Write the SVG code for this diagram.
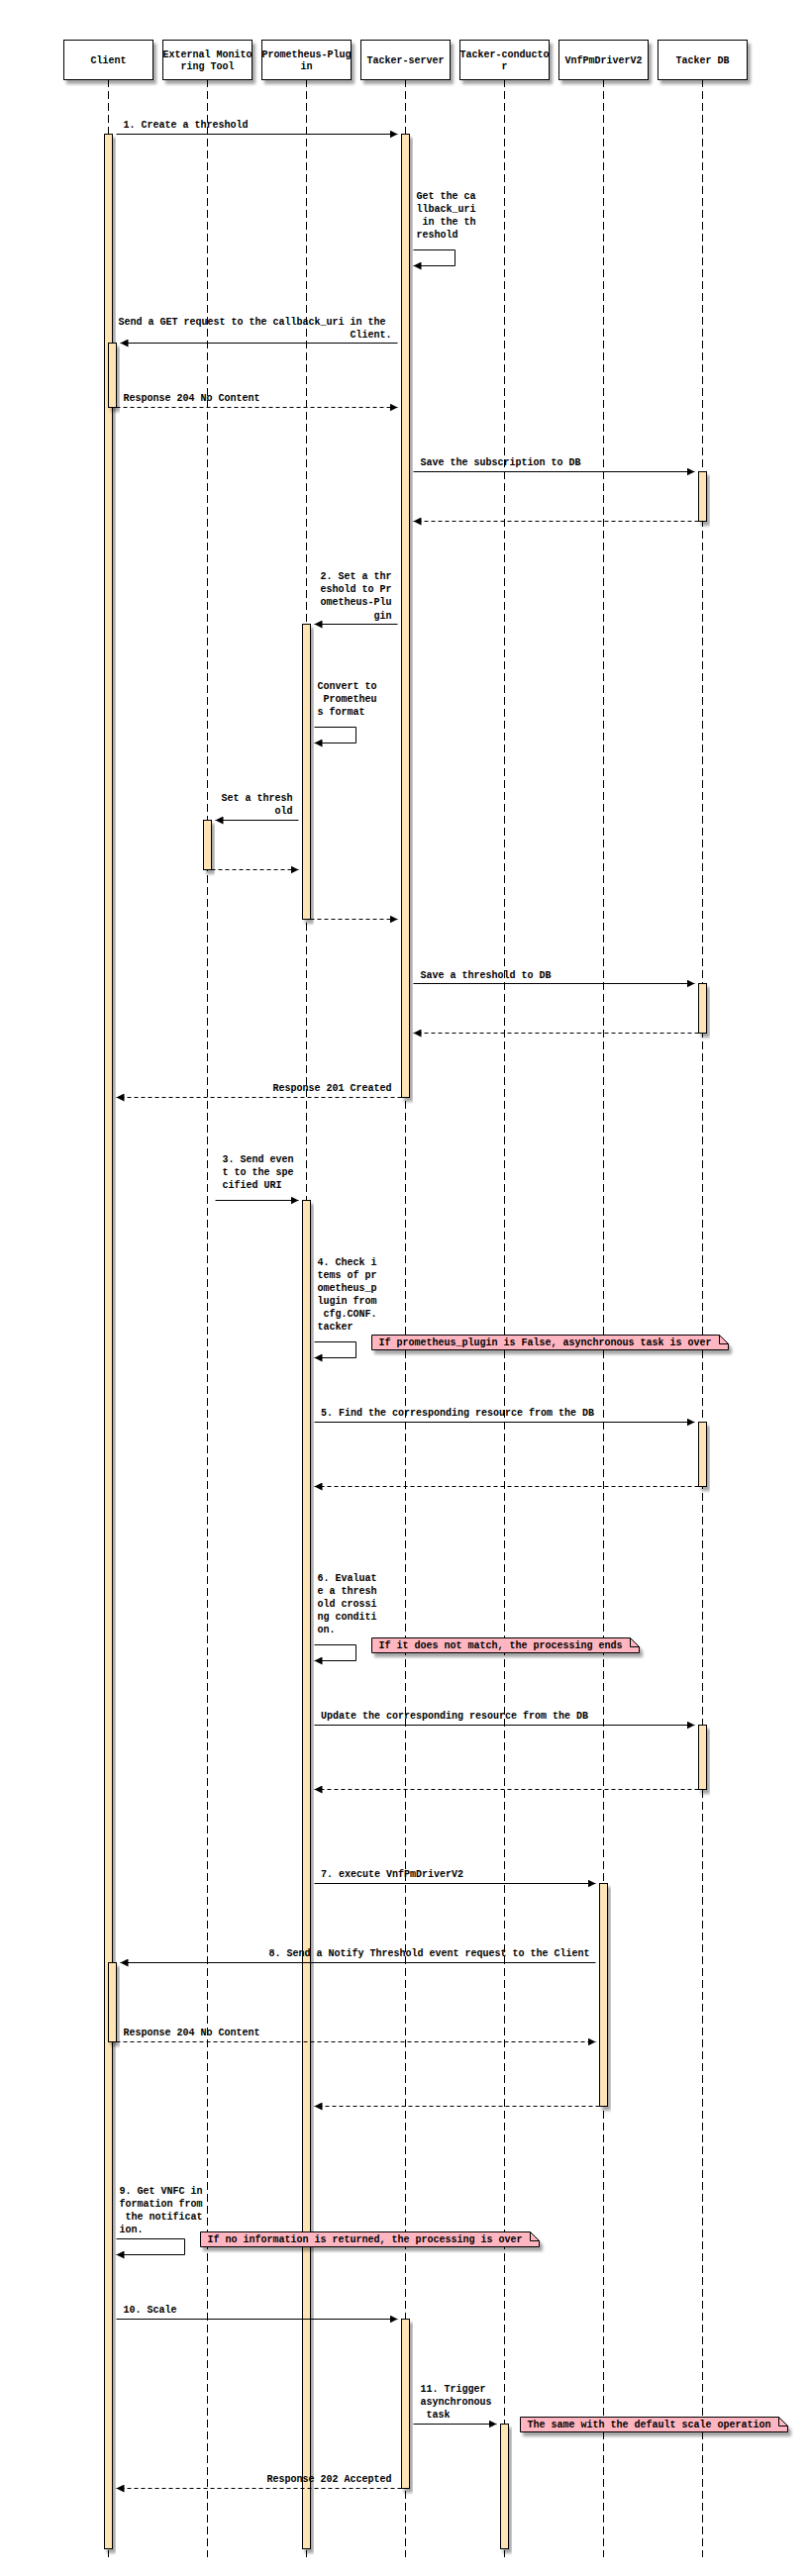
<svg xmlns="http://www.w3.org/2000/svg" width="818" height="2602" viewBox="0 0 818 2602" xml:space="preserve">
<style>
.bg{fill:#fff}
.box{fill:#fff;stroke:#000;stroke-width:1}
.life{stroke:#000;stroke-width:1;stroke-dasharray:8 4;fill:none}
.act{fill:#ffe4b5;stroke:#000;stroke-width:1}
.msg{stroke:#000;stroke-width:1;fill:none;marker-end:url(#arrow)}
.ret{stroke-dasharray:4 3}
.note{fill:#ffb6c1;stroke:#000;stroke-width:1}
.fold{fill:none;stroke:#000;stroke-width:1}
text{font-family:"Liberation Mono","DejaVu Sans Mono",monospace;font-size:10px;font-weight:bold;fill:#000;white-space:pre}
.c{text-anchor:middle}
.e{text-anchor:end}
.sh{filter:url(#shadow)}
</style>
<defs>
<marker id="arrow" markerUnits="userSpaceOnUse" markerWidth="9" markerHeight="8" refX="8" refY="4" orient="auto">
<path d="M0,0 L8,4 L0,8 z" fill="#000"/>
</marker>
<filter id="shadow" x="-20%" y="-20%" width="160%" height="160%">
<feDropShadow dx="3" dy="4" stdDeviation="1.5" flood-color="#000" flood-opacity="0.35"/>
</filter>
</defs>
<rect class="bg" x="0" y="0" width="818" height="2602"/>

<g id="lifelines">
<line class="life" x1="109.5" y1="80" x2="109.5" y2="2583"/>
<line class="life" x1="209.5" y1="80" x2="209.5" y2="2583"/>
<line class="life" x1="309.5" y1="80" x2="309.5" y2="2583"/>
<line class="life" x1="409.5" y1="80" x2="409.5" y2="2583"/>
<line class="life" x1="509.5" y1="80" x2="509.5" y2="2583"/>
<line class="life" x1="609.5" y1="80" x2="609.5" y2="2583"/>
<line class="life" x1="709.5" y1="80" x2="709.5" y2="2583"/>
</g>

<g id="node-client">
<rect class="box sh" x="64.5" y="40.5" width="90" height="40"/>
<text class="c" x="109.5" y="64">Client</text>
<rect class="act sh" x="105.5" y="135.5" width="8" height="2439"/>
<rect class="act sh" x="109.5" y="346.5" width="8" height="65"/>
<rect class="act sh" x="109.5" y="1982.5" width="8" height="80"/>
</g>

<g id="node-external">
<rect class="box sh" x="164.5" y="40.5" width="90" height="40"/>
<text class="c" x="209.5" y="57.5">External Monito</text>
<text class="c" x="209.5" y="70">ring Tool</text>
<rect class="act sh" x="205.5" y="828.5" width="8" height="50"/>
</g>

<g id="node-prometheus">
<rect class="box sh" x="264.5" y="40.5" width="90" height="40"/>
<text class="c" x="309.5" y="57.5">Prometheus-Plug</text>
<text class="c" x="309.5" y="70">in</text>
<rect class="act sh" x="305.5" y="630.5" width="8" height="298"/>
<rect class="act sh" x="305.5" y="1212.5" width="8" height="1362"/>
</g>

<g id="node-server">
<rect class="box sh" x="364.5" y="40.5" width="90" height="40"/>
<text class="c" x="409.5" y="64">Tacker-server</text>
<rect class="act sh" x="405.5" y="135.5" width="8" height="973"/>
<rect class="act sh" x="405.5" y="2342.5" width="8" height="171"/>
</g>

<g id="node-conductor">
<rect class="box sh" x="464.5" y="40.5" width="90" height="40"/>
<text class="c" x="509.5" y="57.5">Tacker-conducto</text>
<text class="c" x="509.5" y="70">r</text>
<rect class="act sh" x="505.5" y="2448.5" width="8" height="126"/>
</g>

<g id="node-vnfpm">
<rect class="box sh" x="564.5" y="40.5" width="90" height="40"/>
<text class="c" x="609.5" y="64">VnfPmDriverV2</text>
<rect class="act sh" x="605.5" y="1902.5" width="8" height="225"/>
</g>

<g id="node-db">
<rect class="box sh" x="664.5" y="40.5" width="90" height="40"/>
<text class="c" x="709.5" y="64">Tacker DB</text>
<rect class="act sh" x="705.5" y="476.5" width="8" height="50"/>
<rect class="act sh" x="705.5" y="993.5" width="8" height="50"/>
<rect class="act sh" x="705.5" y="1436.5" width="8" height="65"/>
<rect class="act sh" x="705.5" y="1742.5" width="8" height="65"/>
</g>

<g id="connectors">
<!-- 1 -->
<path class="msg" d="M117.5,135.5 H401.5"/>
<text x="124.5" y="129">1. Create a threshold</text>
<!-- self server -->
<path class="msg" d="M417.5,252.5 H459.5 V268.5 H417.5"/>
<text x="420.5" y="201">Get the ca</text>
<text x="420.5" y="214">llback_uri</text>
<text x="420.5" y="227"> in the th</text>
<text x="420.5" y="240">reshold</text>
<!-- GET callback -->
<path class="msg" d="M401.5,346.5 H121.5"/>
<text class="e" x="395.5" y="327.5">Send a GET request to the callback_uri in the </text>
<text class="e" x="395.5" y="340.5">Client.</text>
<path class="msg ret" d="M117.5,411.5 H401.5"/>
<text x="124.5" y="405">Response 204 No Content</text>
<!-- save subscription -->
<path class="msg" d="M417.5,476.5 H701.5"/>
<text x="424.5" y="470">Save the subscription to DB</text>
<path class="msg ret" d="M705.5,526.5 H417.5"/>
<!-- 2 -->
<path class="msg" d="M401.5,630.5 H317.5"/>
<text class="e" x="395.5" y="585">2. Set a thr</text>
<text class="e" x="395.5" y="598">eshold to Pr</text>
<text class="e" x="395.5" y="611">ometheus-Plu</text>
<text class="e" x="395.5" y="624.5">gin</text>
<!-- convert -->
<path class="msg" d="M317.5,734.5 H359.5 V750.5 H317.5"/>
<text x="320.5" y="696">Convert to</text>
<text x="320.5" y="709.3"> Prometheu</text>
<text x="320.5" y="722.2">s format</text>
<!-- set threshold ext -->
<path class="msg" d="M301.5,828.5 H217.5"/>
<text class="e" x="295.5" y="809.2">Set a thresh</text>
<text class="e" x="295.5" y="822.2">old</text>
<path class="msg ret" d="M213.5,878.5 H301.5"/>
<path class="msg ret" d="M313.5,928.5 H401.5"/>
<!-- save threshold -->
<path class="msg" d="M417.5,993.5 H701.5"/>
<text x="424.5" y="987.5">Save a threshold to DB</text>
<path class="msg ret" d="M705.5,1043.5 H417.5"/>
<path class="msg ret" d="M405.5,1108.5 H117.5"/>
<text class="e" x="395.5" y="1102.2">Response 201 Created</text>
<!-- 3 -->
<path class="msg" d="M217.5,1212.5 H301.5"/>
<text x="224.5" y="1174.2">3. Send even</text>
<text x="224.5" y="1187.2">t to the spe</text>
<text x="224.5" y="1200.2">cified URI</text>
<!-- 4 -->
<path class="msg" d="M317.5,1355.5 H359.5 V1371.5 H317.5"/>
<text x="320.5" y="1277.7">4. Check i</text>
<text x="320.5" y="1290.7">tems of pr</text>
<text x="320.5" y="1303.7">ometheus_p</text>
<text x="320.5" y="1316.7">lugin from</text>
<text x="320.5" y="1329.7"> cfg.CONF.</text>
<text x="320.5" y="1342.7">tacker</text>
<!-- 5 -->
<path class="msg" d="M317.5,1436.5 H701.5"/>
<text x="324" y="1430.2">5. Find the corresponding resource from the DB</text>
<path class="msg ret" d="M705.5,1501.5 H317.5"/>
<!-- 6 -->
<path class="msg" d="M317.5,1661.5 H359.5 V1677.5 H317.5"/>
<text x="320.5" y="1597.2">6. Evaluat</text>
<text x="320.5" y="1610.2">e a thresh</text>
<text x="320.5" y="1623.2">old crossi</text>
<text x="320.5" y="1636.2">ng conditi</text>
<text x="320.5" y="1649.2">on.</text>
<!-- update -->
<path class="msg" d="M317.5,1742.5 H701.5"/>
<text x="324" y="1736.2">Update the corresponding resource from the DB</text>
<path class="msg ret" d="M705.5,1807.5 H317.5"/>
<!-- 7 -->
<path class="msg" d="M317.5,1902.5 H601.5"/>
<text x="324" y="1896.2">7. execute VnfPmDriverV2</text>
<!-- 8 -->
<path class="msg" d="M601.5,1982.5 H121.5"/>
<text class="e" x="595.5" y="1976.2">8. Send a Notify Threshold event request to the Client</text>
<path class="msg ret" d="M117.5,2062.5 H601.5"/>
<text x="124.5" y="2056.2">Response 204 No Content</text>
<path class="msg ret" d="M605.5,2127.5 H317.5"/>
<!-- 9 -->
<path class="msg" d="M117.5,2261.5 H186.5 V2277.5 H117.5"/>
<text x="120.5" y="2216.2">9. Get VNFC in</text>
<text x="120.5" y="2229.2">formation from</text>
<text x="120.5" y="2242.2"> the notificat</text>
<text x="120.5" y="2255.2">ion.</text>
<!-- 10 -->
<path class="msg" d="M117.5,2342.5 H401.5"/>
<text x="124.5" y="2336.2">10. Scale</text>
<!-- 11 -->
<path class="msg" d="M417.5,2448.5 H501.5"/>
<text x="424.5" y="2416.2">11. Trigger </text>
<text x="424.5" y="2429.2">asynchronous</text>
<text x="424.5" y="2442.2"> task</text>
<path class="msg ret" d="M405.5,2513.5 H117.5"/>
<text class="e" x="395.5" y="2507.2">Response 202 Accepted</text>
</g>

<g id="note-1">
<path class="note sh" d="M375.5,1348.5 H726.5 L735.5,1357.5 V1363.5 H375.5 Z"/>
<path class="fold" d="M726.5,1348.5 V1357.5 H735.5"/>
<text x="382.5" y="1359.3">If prometheus_plugin is False, asynchronous task is over</text>
</g>
<g id="note-2">
<path class="note sh" d="M375.5,1654.5 H636.5 L645.5,1663.5 V1669.5 H375.5 Z"/>
<path class="fold" d="M636.5,1654.5 V1663.5 H645.5"/>
<text x="382.5" y="1665.3">If it does not match, the processing ends</text>
</g>
<g id="note-3">
<path class="note sh" d="M202.5,2254.5 H535.5 L544.5,2263.5 V2269.5 H202.5 Z"/>
<path class="fold" d="M535.5,2254.5 V2263.5 H544.5"/>
<text x="209.5" y="2265.3">If no information is returned, the processing is over</text>
</g>
<g id="note-4">
<path class="note sh" d="M525.5,2441.5 H786.5 L795.5,2450.5 V2456.5 H525.5 Z"/>
<path class="fold" d="M786.5,2441.5 V2450.5 H795.5"/>
<text x="532.5" y="2452.3">The same with the default scale operation</text>
</g>
</svg>
